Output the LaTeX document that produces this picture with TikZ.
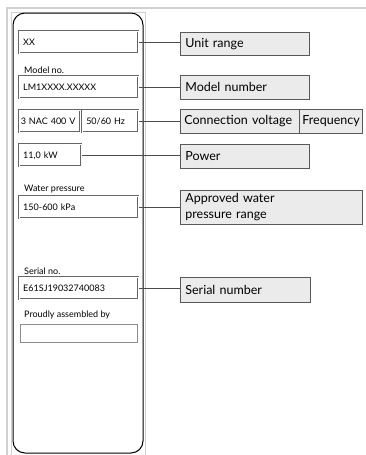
\documentclass[tikz,border=0pt]{standalone}
\usepackage{fontspec}
\setmainfont{Lato}
\usepackage{xcolor}
\definecolor{rahmengrau}{rgb}{0.82,0.82,0.82}
\definecolor{etikettgrau}{rgb}{0.92,0.92,0.92}
\usepackage{tikz}
\usetikzlibrary{positioning}

\begin{document}
\begin{tikzpicture}[
	x=1pt, y=-1pt,
	feld/.style={rectangle, draw=black!60, double=white, double distance=1.1pt, line width=0.5pt, anchor=north west, inner sep=3pt, font=\fontsize{9}{10}\selectfont, text depth=0pt},
	leer/.style={rectangle, draw=black!45, line width=0.6pt, anchor=north west},
	titel/.style={anchor=west, inner sep=0pt, font=\fontsize{9}{10}\selectfont},
	etikett/.style={rectangle, draw=black!65, fill=etikettgrau, line width=0.7pt, anchor=north west, align=left, inner sep=5pt, font=\fontsize{12.5}{16}\selectfont},
	linie/.style={draw=black!70, line width=0.7pt}
	]
	\useasboundingbox (0,0) rectangle (366,455);
	\draw[rahmengrau, line width=2pt] (7,455) -- (7,8) -- (366,8);
	\draw[rahmengrau, line width=0.8pt] (11,455) -- (11,12) -- (145,12) -- (145,455);
	\draw[black, line width=1pt, rounded corners=12pt] (13,13) rectangle (143,453);

	\node[feld, minimum width=119pt, minimum height=22pt, text width=111pt] (xx) at (19,31) {XX};
	\node[titel] (modelno) at (24,70) {Model no.};
	\node[feld, minimum width=119pt, minimum height=22pt, text width=111pt] (lm) at (19,76) {LM1XXXX.XXXXX};
	\node[feld, minimum width=61pt, minimum height=22pt, text width=58pt, inner xsep=1.5pt] (nac) at (19,110) {3 NAC 400 V};
	\node[feld, minimum width=56pt, minimum height=22pt, text width=48pt] (hz) at (82,110) {50/60 Hz};
	\node[feld, minimum width=62pt, minimum height=22pt, text width=54pt] (kw) at (19,144) {11,0 kW};
	\node[titel] (wasser) at (24,189) {Water pressure};
	\node[feld, minimum width=119pt, minimum height=22pt, text width=111pt] (kpa) at (19,196) {150-600 kPa};
	\node[titel] (serialno) at (24,271) {Serial no.};
	\node[feld, minimum width=119pt, minimum height=22pt, text width=111pt] (sn) at (19,277) {E61SJ19032740083};
	\node[titel] (proudly) at (24,315) {Proudly assembled by};
	\node[leer, minimum width=117pt, minimum height=18pt] (montage) at (20,324) {};

	\node[etikett, minimum height=23pt, text width=119pt] (unit) at (180,32) {Unit range};
	\node[etikett, minimum height=24pt, text width=119pt] (modell) at (180,75) {Model number};
	\node[etikett, minimum height=24pt, text width=111pt, inner xsep=4pt] (spannung) at (180,109) {Connection voltage};
	\node[etikett, minimum height=24pt, text width=57pt, inner xsep=3pt] (frequenz) at (299,109) {Frequency};
	\node[etikett, minimum height=24pt, text width=119pt] (leistung) at (180,144) {Power};
	\node[etikett, minimum height=34pt, text width=172pt, inner ysep=1pt] (druck) at (180,190) {Approved water\\pressure range};
	\node[etikett, minimum height=25pt, text width=120pt] (seriennr) at (180,277) {Serial number};

	\draw[linie] (xx.east) -- (xx.east -| unit.west);
	\draw[linie] (lm.east) -- (lm.east -| modell.west);
	\draw[linie] (hz.east) -- (hz.east -| spannung.west);
	\draw[linie] (kw.east) -- (kw.east -| leistung.west);
	\draw[linie] (kpa.east) -- (kpa.east -| druck.west);
	\draw[linie] (sn.east) -- (sn.east -| seriennr.west);
\end{tikzpicture}
\end{document}
